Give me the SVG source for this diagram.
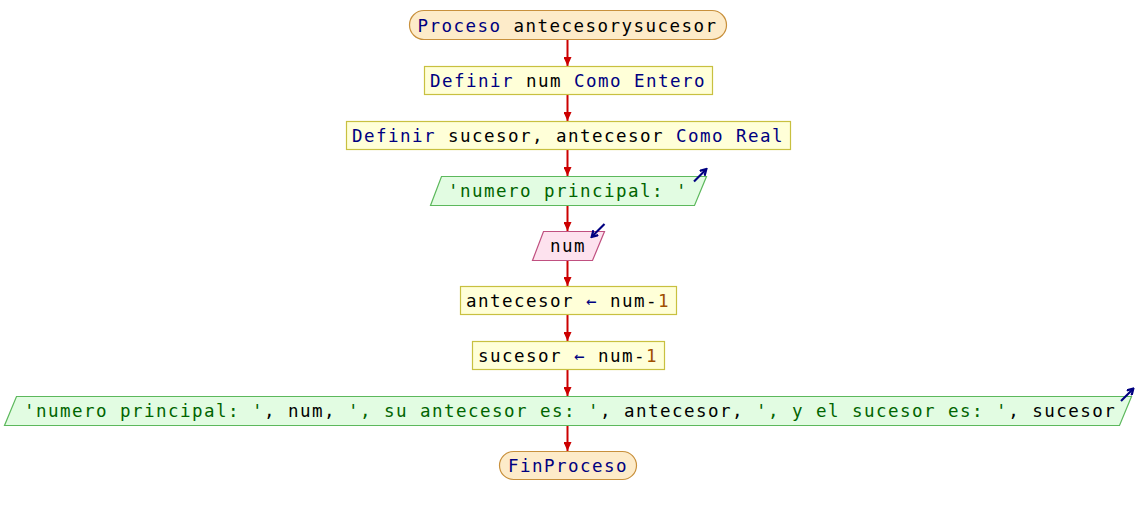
<svg xmlns="http://www.w3.org/2000/svg" width="1136" height="515" viewBox="0 0 1136 515">
<defs>
<style>
text{font-family:"DejaVu Sans Mono","Liberation Mono",monospace;font-size:17.5px;letter-spacing:1.465px;fill:#000}
.kw{fill:#000080}
.st{fill:#006400}
.nm{fill:#a05000}
.term{fill:#fdebc9;stroke:#c8903c;stroke-width:1.2}
.proc{fill:#ffffd8;stroke:#c8c040;stroke-width:1.2}
.out{fill:#e2fce2;stroke:#5cb85c;stroke-width:1.2}
.inp{fill:#fde2ee;stroke:#c05080;stroke-width:1.2}
.conn{stroke:#cc0000;stroke-width:2;fill:none}
.io{stroke:#000080;stroke-width:2.2;fill:none}
</style>
<marker id="ah" markerWidth="9" markerHeight="8" refX="9" refY="4" orient="auto" markerUnits="userSpaceOnUse">
<path d="M0,0 L9,4 L0,8 Z" fill="#cc0000"/>
</marker>
<marker id="ioh" markerWidth="8" markerHeight="8" refX="6" refY="4" orient="auto" markerUnits="userSpaceOnUse">
<path d="M0.5,0.5 L6.5,4 L0.5,7.5" fill="none" stroke="#000080" stroke-width="2.2"/>
</marker>
</defs>
<g id="connectors">
<line class="conn" x1="567.5" y1="40" x2="567.5" y2="66" marker-end="url(#ah)"/>
<line class="conn" x1="567.5" y1="95" x2="567.5" y2="121" marker-end="url(#ah)"/>
<line class="conn" x1="567.5" y1="150" x2="567.5" y2="176" marker-end="url(#ah)"/>
<line class="conn" x1="567.5" y1="205" x2="567.5" y2="231" marker-end="url(#ah)"/>
<line class="conn" x1="567.5" y1="260" x2="567.5" y2="286" marker-end="url(#ah)"/>
<line class="conn" x1="567.5" y1="315" x2="567.5" y2="341" marker-end="url(#ah)"/>
<line class="conn" x1="567.5" y1="370" x2="567.5" y2="396" marker-end="url(#ah)"/>
<line class="conn" x1="567.5" y1="425" x2="567.5" y2="451" marker-end="url(#ah)"/>
</g>
<g id="start">
<rect class="term" x="409.5" y="10.5" width="317" height="29" rx="14.5"/>
<text x="417.5" y="32"><tspan class="kw">Proceso</tspan> antecesorysucesor</text>
</g>
<g id="def1">
<rect class="proc" x="424.5" y="66.5" width="288" height="28"/>
<text x="430" y="87"><tspan class="kw">Definir</tspan> num <tspan class="kw">Como Entero</tspan></text>
</g>
<g id="def2">
<rect class="proc" x="346.5" y="121.5" width="444" height="28"/>
<text x="352" y="142"><tspan class="kw">Definir</tspan> sucesor, antecesor <tspan class="kw">Como Real</tspan></text>
</g>
<g id="out1">
<polygon class="out" points="441.5,176.5 706.5,176.5 694.5,205.5 430.5,205.5"/>
<text x="448" y="197" class="st">'numero principal: '</text>
<line class="io" x1="694" y1="181.5" x2="706" y2="169.5" marker-end="url(#ioh)"/>
</g>
<g id="in1">
<polygon class="inp" points="543.5,231.5 604.5,231.5 592.5,260.5 532.5,260.5"/>
<text x="550" y="252">num</text>
<line class="io" x1="604.5" y1="224" x2="592" y2="236.5" marker-end="url(#ioh)"/>
</g>
<g id="asig1">
<rect class="proc" x="460.5" y="286.5" width="216" height="28"/>
<text x="466" y="307">antecesor <tspan class="kw">←</tspan> num-<tspan class="nm">1</tspan></text>
</g>
<g id="asig2">
<rect class="proc" x="472.5" y="341.5" width="192" height="28"/>
<text x="478" y="362">sucesor <tspan class="kw">←</tspan> num-<tspan class="nm">1</tspan></text>
</g>
<g id="out2">
<polygon class="out" points="16.5,396.5 1131.5,396.5 1119.5,425.5 4.5,425.5"/>
<text x="24" y="417"><tspan class="st">'numero principal: '</tspan>, num, <tspan class="st">', su antecesor es: '</tspan>, antecesor, <tspan class="st">', y el sucesor es: '</tspan>, sucesor</text>
<line class="io" x1="1121" y1="401" x2="1133" y2="389" marker-end="url(#ioh)"/>
</g>
<g id="end">
<rect class="term" x="499.5" y="451.5" width="137" height="28" rx="14"/>
<text x="508" y="472" class="kw">FinProceso</text>
</g>
</svg>
